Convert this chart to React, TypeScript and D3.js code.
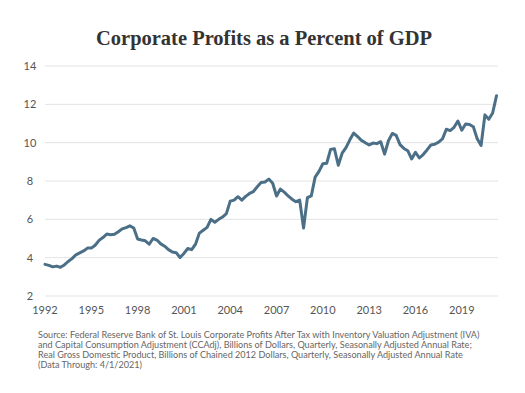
import React, { useRef, useEffect } from 'react';
import * as d3 from 'd3';

// corporate profits after tax / GDP, %, quarterly from 1992 Q1 to 2021 Q2
const startYear = 1992;
const profitShare = [
  3.65, 3.6, 3.52, 3.56, // 1992
  3.5, 3.62, 3.8, 3.95, // 1993
  4.15, 4.25, 4.35, 4.5, // 1994
  4.5, 4.65, 4.9, 5.05, // 1995
  5.23, 5.2, 5.22, 5.35, // 1996
  5.5, 5.57, 5.66, 5.55, // 1997
  4.97, 4.92, 4.88, 4.7, // 1998
  5.0, 4.92, 4.72, 4.6, // 1999
  4.42, 4.3, 4.26, 4.01, // 2000
  4.22, 4.48, 4.42, 4.7, // 2001
  5.28, 5.43, 5.58, 6.0, // 2002
  5.85, 6.0, 6.12, 6.3, // 2003
  6.95, 7.0, 7.18, 7.0, // 2004
  7.2, 7.35, 7.45, 7.7, // 2005
  7.92, 7.95, 8.1, 7.88, // 2006
  7.22, 7.58, 7.42, 7.22, // 2007
  7.05, 6.92, 7.0, 5.55, // 2008
  7.13, 7.22, 8.2, 8.5, // 2009
  8.9, 8.92, 9.65, 9.68, // 2010
  8.82, 9.45, 9.74, 10.15, // 2011
  10.5, 10.32, 10.12, 10.0, // 2012
  9.88, 9.98, 9.95, 10.05, // 2013
  9.4, 10.1, 10.48, 10.38, // 2014
  9.9, 9.7, 9.58, 9.15, // 2015
  9.5, 9.2, 9.38, 9.62, // 2016
  9.88, 9.92, 10.03, 10.2, // 2017
  10.7, 10.63, 10.8, 11.13, // 2018
  10.65, 10.97, 10.95, 10.83, // 2019
  10.2, 9.85, 11.45, 11.22, // 2020
  11.55, 12.45 // 2021
];

const yTicks = [2, 4, 6, 8, 10, 12, 14];
const xTicks = [1992, 1995, 1998, 2001, 2004, 2007, 2010, 2013, 2016, 2019];

const title = 'Corporate Profits as a Percent of GDP';
const sourceLines = [
  'Source: Federal Reserve Bank of St. Louis Corporate Profits After Tax with Inventory Valuation Adjustment (IVA)',
  'and Capital Consumption Adjustment (CCAdj), Billions of Dollars, Quarterly, Seasonally Adjusted Annual Rate;',
  'Real Gross Domestic Product, Billions of Chained 2012 Dollars, Quarterly, Seasonally Adjusted Annual Rate',
  '(Data Through: 4/1/2021)'
];

const App = () => {
  const svgRef = useRef(null);

  useEffect(() => {
    document.body.style.margin = '0';

    const width = 525;
    const height = 393;
    const plot = { left: 45, right: 498, top: 66, bottom: 296 };

    const svg = d3.select(svgRef.current);
    svg.selectAll('*').remove();

    svg.append('rect').attr('width', width).attr('height', height).attr('fill', '#fff');

    const records = profitShare.map((v, i) => ({ t: startYear + i / 4, v }));

    const x = d3.scaleLinear()
      .domain([1992, 2021.25])
      .range([plot.left, 496.5]);

    const y = d3.scaleLinear()
      .domain([2, 14])
      .range([plot.bottom, plot.top]);

    // title
    svg.append('text')
      .attr('x', 264)
      .attr('y', 45)
      .attr('text-anchor', 'middle')
      .attr('font-family', '"Liberation Serif", serif')
      .attr('font-weight', 'bold')
      .attr('font-size', 20)
      .attr('fill', '#333')
      .attr('textLength', 336)
      .attr('lengthAdjust', 'spacingAndGlyphs')
      .text(title);

    // grid
    svg.append('g')
      .selectAll('line')
      .data(yTicks)
      .join('line')
      .attr('x1', plot.left)
      .attr('x2', plot.right)
      .attr('y1', (d) => y(d))
      .attr('y2', (d) => y(d))
      .attr('stroke', '#e3e3e3')
      .attr('stroke-width', 1);

    // y labels
    svg.append('g')
      .selectAll('text')
      .data(yTicks)
      .join('text')
      .attr('x', 30)
      .attr('y', (d) => y(d))
      .attr('dy', '0.35em')
      .attr('text-anchor', 'middle')
      .attr('font-family', 'Lato, sans-serif')
      .attr('font-size', 11)
      .attr('fill', '#555')
      .text((d) => d);

    // x labels
    svg.append('g')
      .selectAll('text')
      .data(xTicks)
      .join('text')
      .attr('x', (d) => x(d))
      .attr('y', 314)
      .attr('text-anchor', 'middle')
      .attr('font-family', 'Lato, sans-serif')
      .attr('font-size', 11)
      .attr('fill', '#555')
      .text((d) => d);

    const line = d3.line()
      .x((d) => x(d.t))
      .y((d) => y(d.v));

    svg.append('path')
      .datum(records)
      .attr('fill', 'none')
      .attr('stroke', '#4b6f87')
      .attr('stroke-width', 3)
      .attr('stroke-linejoin', 'round')
      .attr('stroke-linecap', 'round')
      .attr('d', line);

    // source note
    svg.append('g')
      .selectAll('text')
      .data(sourceLines)
      .join('text')
      .attr('x', 38)
      .attr('y', (d, i) => 338 + i * 10)
      .attr('font-family', 'Lato, sans-serif')
      .attr('font-size', 9.1)
      .attr('fill', '#666')
      .text((d) => d);
  }, []);

  return <svg ref={svgRef} width={525} height={393} style={{ display: 'block' }} />;
};

export default App;
